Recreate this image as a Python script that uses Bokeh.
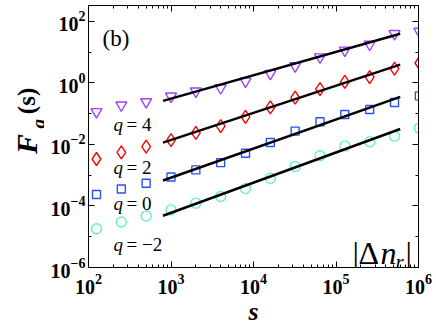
import math
from bokeh.plotting import figure
from bokeh.layouts import row
from bokeh.models import Label, LogAxis, FixedTicker, CustomJSTickFormatter, Range1d
from bokeh.core.properties import value
from bokeh.embed import file_html
from bokeh.resources import INLINE

# ---- data ----
s = [125, 250, 500, 1000, 2000, 4000, 8000, 16000, 32000, 64000, 128000, 256000, 512000, 1024000]
F_q4 = [0.115, 0.19, 0.243, 0.37, 0.54, 0.69, 1.13, 2.02, 3.56, 6.95, 11.5, 17.9, 39.8, 47.3]
F_q2 = [0.00337, 0.00556, 0.00845, 0.0139, 0.024, 0.0396, 0.0792, 0.16, 0.336, 0.625, 1.08, 1.56, 2.93, 4.45]
F_q0 = [2.35e-4, 3.55e-4, 5.5e-4, 8.8e-4, 1.49e-3, 2.56e-3, 5.16e-3, 0.01155, 0.0272, 0.0546, 0.0947, 0.137, 0.232, 0.379]
F_qm2 = [1.82e-5, 3.0e-5, 4.7e-5, 7.5e-5, 1.24e-4, 2.03e-4, 3.68e-4, 8.0e-4, 1.93e-3, 4.3e-3, 8.97e-3, 0.0123, 0.0187, 0.034]

fit_s = [800, 6.0e5]
fit_q4 = [0.262, 40.0]
fit_q2 = [0.0115, 3.95]
fit_q0 = [6.73e-4, 0.353]
fit_qm2 = [4.83e-5, 0.0318]

q_labels = ["4", "2", "0", "\u22122"]
x_ticks = [1e2, 1e3, 1e4, 1e5, 1e6]
y_ticks = [1e-6, 1e-4, 1e-2, 1e0, 1e2]

# ---- layout (page pixels) ----
W, H = 436, 328
LW = 44                                   # width of the strip holding the y title
FL, FR, FT, FB = 88, 418, 5, 268
X0, X1 = 2.0, 6.0
Y0 = -6.0
YPX = 30.875                              # px per decade on y
Y1 = Y0 + (FB - FT) / YPX
XPX = (FR - FL) / (X1 - X0)

def X(px):
    return 10 ** (X0 + (px - FL) / XPX)

def Y(py):
    return 10 ** (Y0 + (FB - py) / YPX)

p = figure(width=W - LW, height=H, x_axis_type="log", y_axis_type="log",
           x_range=Range1d(10 ** X0, 10 ** X1), y_range=Range1d(10 ** Y0, 10 ** Y1),
           output_backend="svg", toolbar_location=None,
           min_border_left=FL - LW, min_border_right=W - FR,
           min_border_top=FT, min_border_bottom=H - FB)
p.xgrid.visible = False
p.ygrid.visible = False
p.outline_line_color = "black"
p.outline_line_width = 1
p.background_fill_color = "white"
p.border_fill_color = "white"

x_minor = [m * 10 ** k for k in range(2, 6) for m in range(2, 10)]
y_minor = [1e-5, 1e-3, 1e-1, 1e1]

def style_axis(ax, show_labels=True):
    ax.axis_line_color = "black"
    ax.axis_line_width = 1
    ax.major_tick_in = 6
    ax.major_tick_out = 0
    ax.minor_tick_in = 3
    ax.minor_tick_out = 0
    ax.major_tick_line_color = "black"
    ax.minor_tick_line_color = "black"
    ax.major_label_text_font = "Liberation Serif"
    ax.major_label_text_font_style = "bold"
    ax.major_label_text_font_size = "20px"
    ax.major_label_text_color = "black"
    if not show_labels:
        ax.formatter = CustomJSTickFormatter(code="return ''")
        ax.major_label_standoff = 0
        ax.axis_label_standoff = 0

p.xaxis.ticker = FixedTicker(ticks=x_ticks, minor_ticks=x_minor)
p.yaxis.ticker = FixedTicker(ticks=y_ticks, minor_ticks=y_minor)
style_axis(p.xaxis[0])
style_axis(p.yaxis[0])
p.xaxis.major_label_standoff = 6
p.yaxis.major_label_standoff = 3
p.yaxis.axis_label_standoff = 0
p.xaxis.axis_label = "s"
p.xaxis.axis_label_text_font = "Liberation Serif"
p.xaxis.axis_label_text_font_style = "bold italic"
p.xaxis.axis_label_text_font_size = "26px"
p.xaxis.axis_label_text_color = "black"
p.xaxis.axis_label_standoff = 0

top = LogAxis(ticker=FixedTicker(ticks=x_ticks, minor_ticks=x_minor))
style_axis(top, False)
p.add_layout(top, "above")
right = LogAxis(ticker=FixedTicker(ticks=y_ticks, minor_ticks=y_minor))
style_axis(right, False)
p.add_layout(right, "right")

# ---- series ----
series = [
    (F_q4, fit_q4, "inverted_triangle", "#a040ff", 11),
    (F_q2, fit_q2, "diamond", "#ff0000", 13),
    (F_q0, fit_q0, "square", "#2850ff", 8),
    (F_qm2, fit_qm2, "circle", "#66eecc", 10),
]
for ys, fit, marker, color, size in series:
    p.scatter(s, ys, marker=marker, size=size, fill_color=None,
              line_color=color, line_width=1.4)
for ys, fit, marker, color, size in series:
    p.line(fit_s, fit, line_color="black", line_width=2.5)

def lab(text, px, py, size, style="normal", angle=0, align="left", baseline="alphabetic"):
    p.add_layout(Label(x=X(px), y=Y(py), text=text, text_font="Liberation Serif",
                       text_font_size=f"{size}px", text_font_style=style, angle=angle,
                       text_align=align, text_baseline=baseline, text_color="black"))

# panel tag
lab("(b)", 102, 38, 23)

# q labels
for q, py in zip(q_labels, [124, 168, 204, 245]):
    lab("q", 113, py, 19, "italic")
    lab("= " + q, 126, py, 19)

# |Δn_r|
lab("|", 352, 253, 32)
lab("\u0394", 358, 253, 32)
lab("n", 380, 253, 32, "italic")
lab("r", 395, 262, 21, "italic")
lab("|", 405, 253, 32)

# ---- strip at the left carrying the rotated y title F_q(s) ----
t = figure(width=LW, height=H, x_range=Range1d(0, LW), y_range=Range1d(0, H),
           output_backend="svg", toolbar_location=None, min_border=0,
           x_axis_location=None, y_axis_location=None)
t.xgrid.visible = False
t.ygrid.visible = False
t.outline_line_color = None
t.background_fill_color = "white"
t.border_fill_color = "white"

def tlab(text, px, py, size, style):
    t.text(x=[px], y=[H - py], text=[text], angle=math.pi / 2,
           text_font=value("Liberation Serif"), text_font_size=value(f"{size}px"),
           text_font_style=value(style), text_align="left",
           text_baseline="alphabetic", text_color="black")

tlab("F", 26, 186, 30, "bold italic")
tlab("q", 38, 154, 19, "bold italic")
tlab("(s)", 26, 136, 25, "bold")

layout = row(t, p, spacing=0)
open("out.html", "w").write(file_html(layout, INLINE))
